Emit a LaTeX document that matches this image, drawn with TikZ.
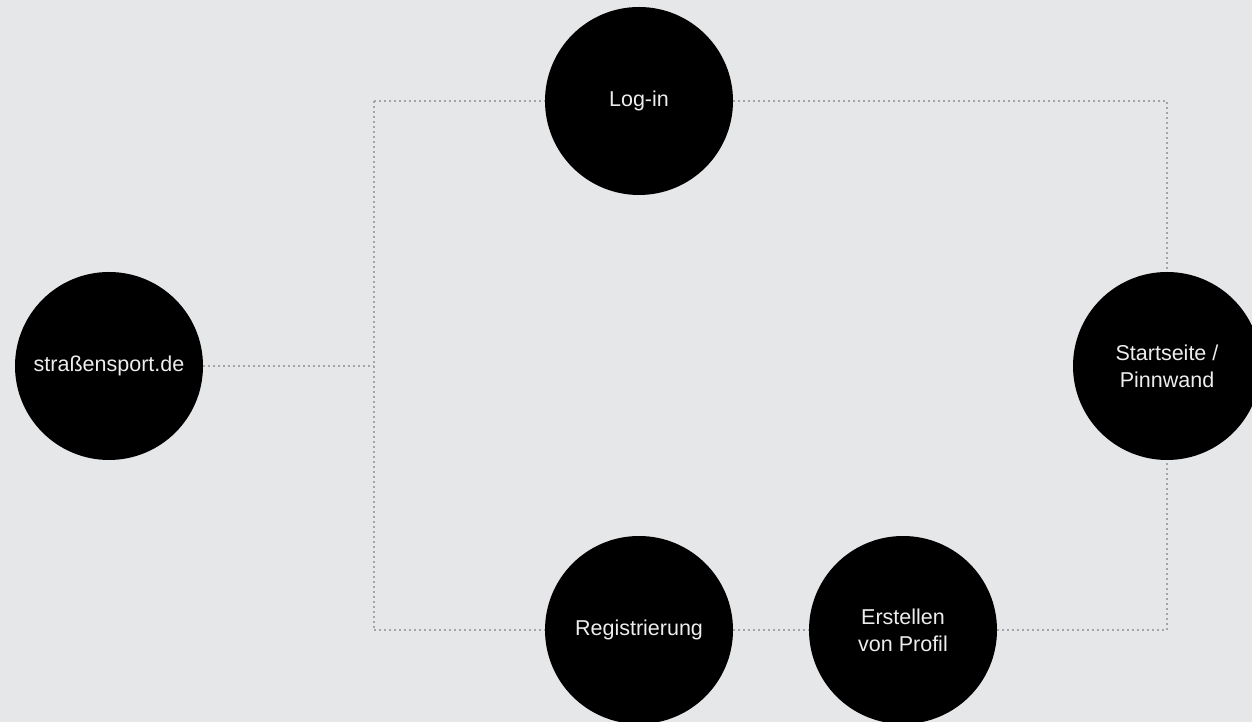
\documentclass[tikz,border=0pt]{standalone}
\usepackage{fontspec}
\setmainfont{Liberation Sans}
\usetikzlibrary{positioning}

\definecolor{paper}{HTML}{E6E7E9}
\definecolor{dots}{HTML}{A4A5A8}
\definecolor{label}{HTML}{EDEDED}

\begin{document}
\begin{tikzpicture}[x=1pt,y=1pt,node distance=264pt,
    main node/.style={circle,fill=black,minimum size=188pt,inner sep=0pt,align=center,text=label,font=\fontsize{21.5}{27}\selectfont},
    link/.style={draw=dots,line width=1.6pt,dash pattern=on 1.6pt off 3.4pt}]
            \fill[paper] (0,0) rectangle (1252,722);
            \useasboundingbox (0,0) rectangle (1252,722);

            \node[main node] (web) at (109,356) {straßensport.de};

            \node[main node] (login) at (639,621) {Log-in};
            \node[main node] (reg) at (639,92) {Registrierung};
            \node[main node] (profil) [right of = reg] {Erstellen\\von Profil};

            \node[main node] (start) at (1167,356) {Startseite /\\Pinnwand};

            \coordinate (jtop) at (374,621);
            \coordinate (jmid) at (374,356);
            \coordinate (jbot) at (374,92);

            \path[link]
                (web) edge (jmid)
                (jtop) edge (jbot)
                (jtop) edge (login)
                (jbot) edge (reg)

                (reg) edge (profil)
            ;
            \draw[link] (login) -| (start);
            \draw[link] (profil) -| (start);
            \end{tikzpicture}
\end{document}
